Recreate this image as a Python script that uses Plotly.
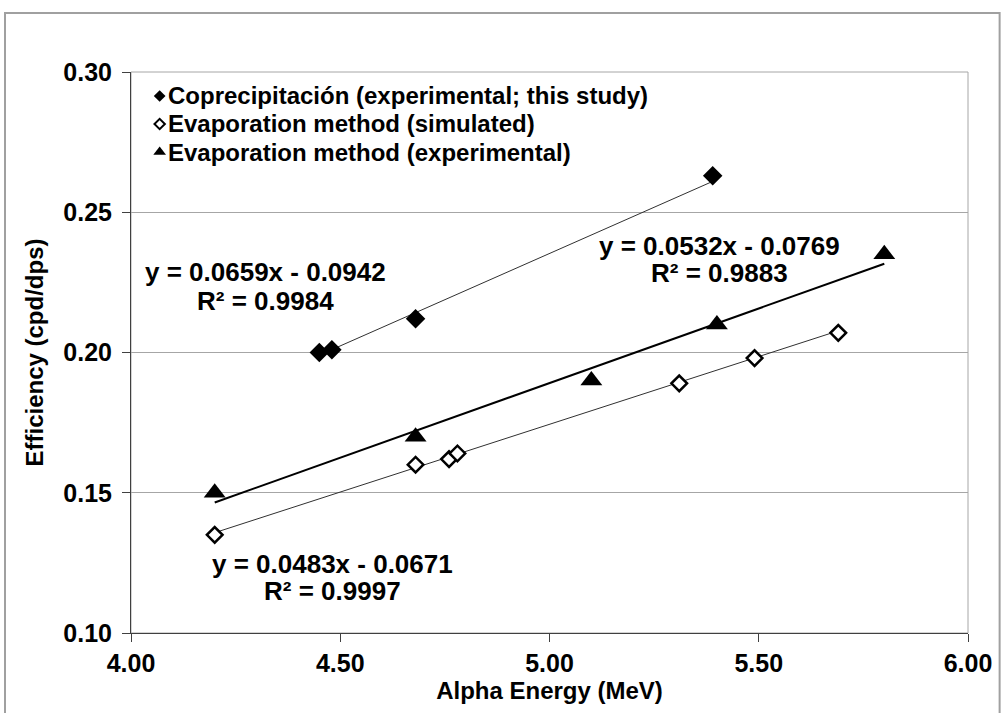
import plotly.graph_objects as go

# ---- data ----
copre_x = [4.45, 4.48, 4.68, 5.39]
copre_y = [0.200, 0.201, 0.212, 0.263]
sim_x = [4.20, 4.68, 4.76, 4.78, 5.31, 5.49, 5.69]
sim_y = [0.135, 0.160, 0.162, 0.164, 0.189, 0.198, 0.207]
exp_x = [4.20, 4.68, 5.10, 5.40, 5.80]
exp_y = [0.150, 0.170, 0.190, 0.210, 0.235]

series_names = [
    "Coprecipitación (experimental; this study)",
    "Evaporation method (simulated)",
    "Evaporation method (experimental)",
]
fit_slopes = [0.0659, 0.0483, 0.0532]
fit_intercepts = [-0.0942, -0.0671, -0.0769]
fit_r2 = [0.9984, 0.9997, 0.9883]

x_ticks = [4.00, 4.50, 5.00, 5.50, 6.00]
y_ticks = [0.10, 0.15, 0.20, 0.25, 0.30]

x_title = "Alpha Energy (MeV)"
y_title = "Efficiency (cpd/dps)"

# ---- figure ----
W, H = 1004, 713
L, R, T, B = 131, 26, 72, 80
pw, ph = W - L - R, H - T - B


def px(xp):
    return (xp - L) / pw


def py(yp):
    return (H - B - yp) / ph


FONT = "Arial, Liberation Sans, sans-serif"
fig = go.Figure()

series = [(copre_x, copre_y), (sim_x, sim_y), (exp_x, exp_y)]
line_widths = [1, 1, 2]
line_colors = ["#303030", "#303030", "#000000"]

# trend lines
for (xs, ys), m, b, lw, lc in zip(series, fit_slopes, fit_intercepts, line_widths, line_colors):
    x0, x1 = min(xs), max(xs)
    fig.add_trace(go.Scatter(x=[x0, x1], y=[m * x0 + b, m * x1 + b], mode="lines",
                             line=dict(color=lc, width=lw), showlegend=False, hoverinfo="skip"))

marker_styles = [
    dict(symbol="diamond", size=15, color="black", line=dict(width=0)),
    dict(symbol="diamond", size=12, color="white", line=dict(color="black", width=2.5)),
    dict(symbol="triangle-up", size=19, color="black", line=dict(width=0)),
]
for (xs, ys), name, ms in zip(series, series_names, marker_styles):
    fig.add_trace(go.Scatter(x=xs, y=ys, mode="markers", name=name, marker=ms, showlegend=False))

# custom legend (markers on an overlay axis in paper units + text annotations)
leg_rows_px = [96, 124, 152]
leg_marker_styles = [
    dict(symbol="diamond", size=9, color="black", line=dict(width=0)),
    dict(symbol="diamond", size=8, color="white", line=dict(color="black", width=2)),
    dict(symbol="triangle-up", size=11, color="black", line=dict(width=0)),
]
for name, yr, ms in zip(series_names, leg_rows_px, leg_marker_styles):
    fig.add_trace(go.Scatter(x=[px(160)], y=[py(yr)], xaxis="x2", yaxis="y2", mode="markers",
                             marker=ms, showlegend=False, hoverinfo="skip"))
    fig.add_annotation(x=px(166), y=py(yr), xref="paper", yref="paper", text=name,
                       showarrow=False, xanchor="left", yanchor="middle",
                       font=dict(family=FONT, size=24, color="black", weight="bold"))

# equation labels
eq_pos = [(267, 272, 301), (335, 564, 591), (727, 246, 273)]
for m, b, r2, (cx, y1, y2) in zip(fit_slopes, fit_intercepts, fit_r2, eq_pos):
    sign = "-" if b < 0 else "+"
    fig.add_annotation(x=px(cx), y=py(y1), xref="paper", yref="paper",
                       text=f"y = {m:.4f}x {sign} {abs(b):.4f}", showarrow=False,
                       xanchor="center", yanchor="middle",
                       font=dict(family=FONT, size=26, color="black", weight="bold"))
    fig.add_annotation(x=px(cx), y=py(y2), xref="paper", yref="paper",
                       text=f"R² = {r2:.4f}", showarrow=False,
                       xanchor="center", yanchor="middle",
                       font=dict(family=FONT, size=26, color="black", weight="bold"))

# outer chart border and plot-area border
fig.add_shape(type="rect", xref="paper", yref="paper", x0=px(3.5), x1=px(1010), y0=py(13), y1=py(720),
              line=dict(color="#a0a0a0", width=2), layer="below")
fig.add_shape(type="rect", xref="paper", yref="paper", x0=0, x1=1, y0=0, y1=1,
              line=dict(color="#a6a6a6", width=1), layer="below")

axis_font = dict(family=FONT, size=25, color="black", weight="bold")
title_font = dict(family=FONT, size=24, color="black", weight="bold")
fig.update_layout(
    width=W, height=H,
    margin=dict(l=L, r=R, t=T, b=B, pad=0),
    paper_bgcolor="white", plot_bgcolor="white",
    showlegend=False,
    xaxis=dict(range=[4.0, 6.0], tickvals=x_ticks, ticktext=[f"{v:.2f}" for v in x_ticks],
               showgrid=False, zeroline=False, showline=True, linecolor="#404040", linewidth=1,
               ticks="outside", ticklen=8, tickcolor="#404040", tickfont=axis_font,
               title=dict(text=x_title, font=title_font, standoff=6)),
    yaxis=dict(range=[0.10, 0.30], tickvals=y_ticks, ticktext=[f"{v:.2f}" for v in y_ticks],
               showgrid=True, gridcolor="#a6a6a6", gridwidth=1, zeroline=False,
               showline=True, linecolor="#404040", linewidth=1,
               ticks="outside", ticklen=8, tickcolor="#404040", tickfont=axis_font,
               ticklabelstandoff=5,
               title=dict(text=y_title, font=title_font, standoff=12)),
    xaxis2=dict(range=[0, 1], overlaying="x", visible=False, fixedrange=True),
    yaxis2=dict(range=[0, 1], overlaying="y", visible=False, fixedrange=True),
)

fig.write_html("out.html")
